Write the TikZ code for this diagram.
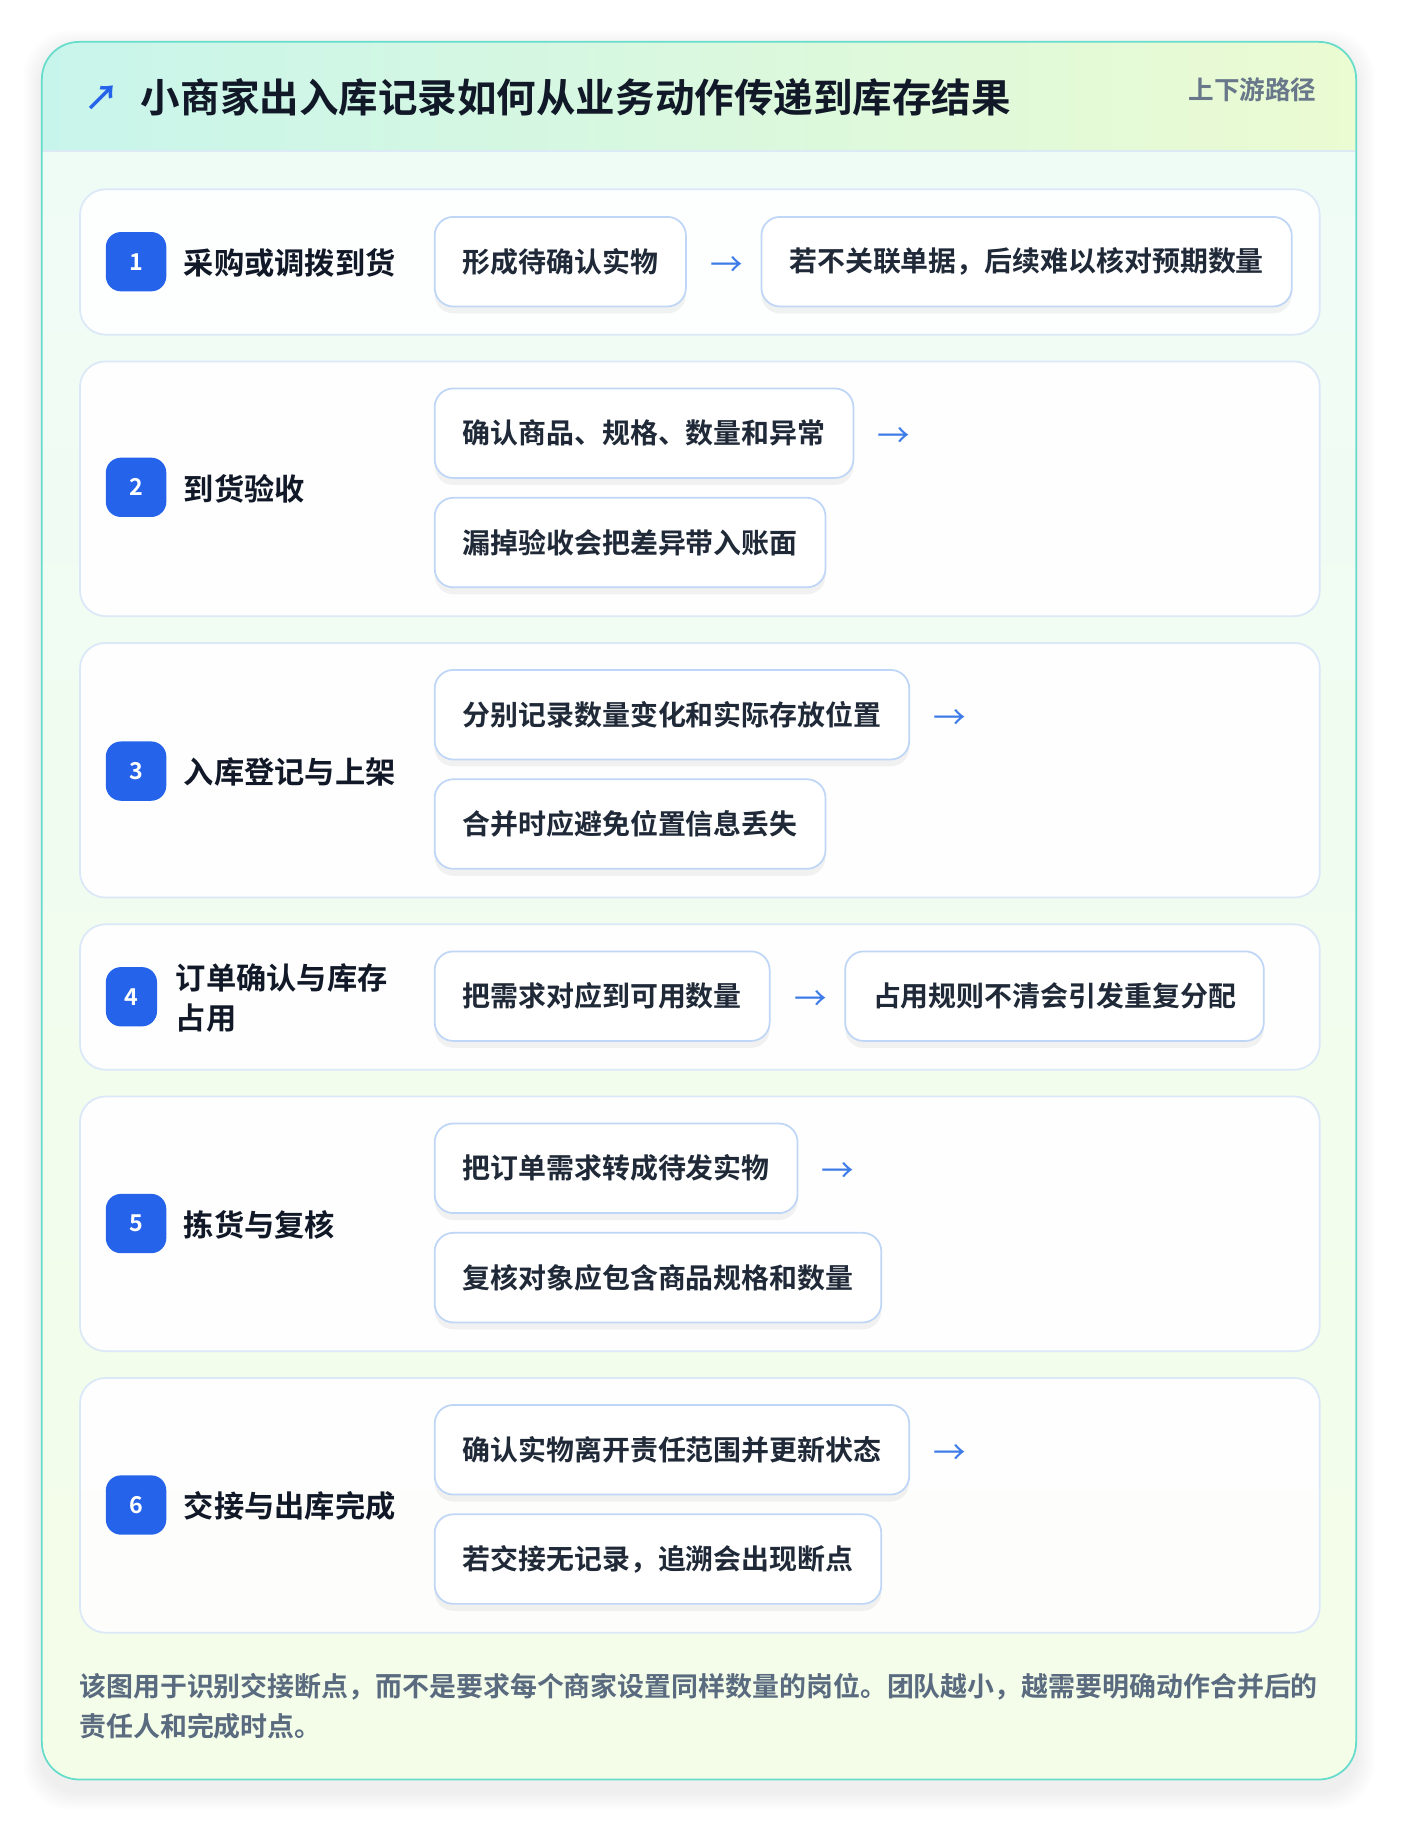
\documentclass[tikz,border=0pt]{standalone}
\usepackage{fontspec}
\setmainfont{Noto Sans CJK SC}[BoldFont={Noto Sans CJK SC Bold}]
\usetikzlibrary{shadows,positioning}
\definecolor{headL}{HTML}{C8F5EB}
\definecolor{headR}{HTML}{EBFBD2}
\definecolor{bodyT}{HTML}{EFFCF7}
\definecolor{bodyB}{HTML}{F4FDE8}
\definecolor{cardborder}{HTML}{66DCCB}
\definecolor{headline}{HTML}{DCEAF6}
\definecolor{rowborder}{HTML}{DBE8F8}
\definecolor{stepborder}{HTML}{BFD6F6}
\definecolor{badgeblue}{HTML}{2563EB}
\definecolor{arrowblue}{HTML}{3C7BE8}
\definecolor{titletext}{HTML}{111827}
\definecolor{steptext}{HTML}{1F2937}
\definecolor{tagtext}{HTML}{687789}
\definecolor{foottext}{HTML}{5A6B80}
\begin{document}
\begin{tikzpicture}[x=1pt,y=-1pt,
  rowbox/.style={draw=rowborder, line width=1.5pt, rounded corners=22pt, fill=white, fill opacity=0.9, minimum width=1066pt, anchor=north west, inner sep=0pt},
  stepbox/.style={draw=stepborder, line width=1.5pt, rounded corners=16pt, fill=white, inner xsep=24pt, inner ysep=0pt, minimum height=77pt, font=\bfseries\fontsize{24}{28}\selectfont, text=steptext, anchor=west, drop shadow={shadow xshift=0pt, shadow yshift=-6pt, opacity=0.05, fill=black}},
  badge/.style={fill=badgeblue, rounded corners=13pt, minimum width=52pt, minimum height=51pt, text=white, font=\bfseries\fontsize{20}{24}\selectfont, inner sep=0pt},
  steplabel/.style={font=\bfseries\fontsize{26}{34}\selectfont, text=titletext, anchor=west, inner sep=0pt, align=left},
  flowarrow/.style={text=arrowblue, font=\fontsize{28}{28}\selectfont, inner sep=0pt, minimum width=28pt, yshift=-4pt}
]
\useasboundingbox (0,0) rectangle (1204,1570);
\fill[white] (0,0) rectangle (1204,1570);
% card shadow
\foreach \i in {1,...,8}{
  \fill[black, opacity=0.007, rounded corners=32pt+\i pt] (36-2*\i,42-2*\i) rectangle (1166+2*\i,1540+2*\i);
}
% card body
\shade[top color=bodyT, bottom color=bodyB, rounded corners=32pt] (36,36) rectangle (1166,1530);
\begin{scope}
  \clip[rounded corners=32pt] (36,36) rectangle (1166,1530);
  \shade[left color=headL, right color=headR] (36,36) rectangle (1166,130);
\end{scope}
\draw[headline, line width=2pt] (37,130) -- (1165,130);
\draw[cardborder, line width=1.5pt, rounded corners=32pt] (36,36) rectangle (1166,1530);

% header
\node[text=badgeblue, font=\bfseries\fontsize{30}{30}\selectfont, inner sep=0pt] (icon) at (88,84) {↗};
\node[font=\bfseries\fontsize{34}{40}\selectfont, text=titletext, anchor=west, inner sep=0pt] (title) at (121,84) {小商家出入库记录如何从业务动作传递到库存结果};
\node[font=\bfseries\fontsize{22}{26}\selectfont, text=tagtext, anchor=east, inner sep=0pt] (tag) at (1132,77) {上下游路径};

% row 1
\node[rowbox, minimum height=125pt] (r1) at (68,162) {};
\node[badge] (b1) at (117,225) {1};
\node[steplabel] (l1) at (158,226) {采购或调拨到货};
\node[stepbox] (s1a) at (373,225) {形成待确认实物};
\node[flowarrow, right=20pt of s1a] (a1) {→};
\node[stepbox, right=15pt of a1, yshift=4pt] (s1b) {若不关联单据，后续难以核对预期数量};

% row 2
\node[rowbox, minimum height=219pt] (r2) at (68,310) {};
\node[badge] (b2) at (117,419) {2};
\node[steplabel] (l2) at (158,420) {到货验收};
\node[stepbox] (s2a) at (373,372.5) {确认商品、规格、数量和异常};
\node[flowarrow, right=20pt of s2a] (a2) {→};
\node[stepbox] (s2b) at (373,466.5) {漏掉验收会把差异带入账面};

% row 3
\node[rowbox, minimum height=219pt] (r3) at (68,552) {};
\node[badge] (b3) at (117,663) {3};
\node[steplabel] (l3) at (158,664) {入库登记与上架};
\node[stepbox] (s3a) at (373,614.5) {分别记录数量变化和实际存放位置};
\node[flowarrow, right=20pt of s3a] (a3) {→};
\node[stepbox] (s3b) at (373,708.5) {合并时应避免位置信息丢失};

% row 4
\node[rowbox, minimum height=125pt] (r4) at (68,794) {};
\node[badge, minimum width=44pt] (b4) at (113,857) {4};
\node[steplabel] (l4) at (151,858) {订单确认与库存\\占用};
\node[stepbox] (s4a) at (373,856.5) {把需求对应到可用数量};
\node[flowarrow, right=20pt of s4a] (a4) {→};
\node[stepbox, right=15pt of a4, yshift=4pt] (s4b) {占用规则不清会引发重复分配};

% row 5
\node[rowbox, minimum height=219pt] (r5) at (68,942) {};
\node[badge] (b5) at (117,1052) {5};
\node[steplabel] (l5) at (158,1053) {拣货与复核};
\node[stepbox] (s5a) at (373,1004.5) {把订单需求转成待发实物};
\node[flowarrow, right=20pt of s5a] (a5) {→};
\node[stepbox] (s5b) at (373,1098.5) {复核对象应包含商品规格和数量};

% row 6
\node[rowbox, minimum height=219pt] (r6) at (68,1184) {};
\node[badge] (b6) at (117,1294) {6};
\node[steplabel] (l6) at (158,1295) {交接与出库完成};
\node[stepbox] (s6a) at (373,1246.5) {确认实物离开责任范围并更新状态};
\node[flowarrow, right=20pt of s6a] (a6) {→};
\node[stepbox] (s6b) at (373,1340.5) {若交接无记录，追溯会出现断点};

% footer
\node[font=\bfseries\fontsize{23.15}{35}\selectfont, text=foottext, anchor=west, align=left, inner sep=0pt] (foot) at (68,1467) {该图用于识别交接断点，而不是要求每个商家设置同样数量的岗位。团队越小，越需要明确动作合并后的\\责任人和完成时点。};
\end{tikzpicture}
\end{document}
